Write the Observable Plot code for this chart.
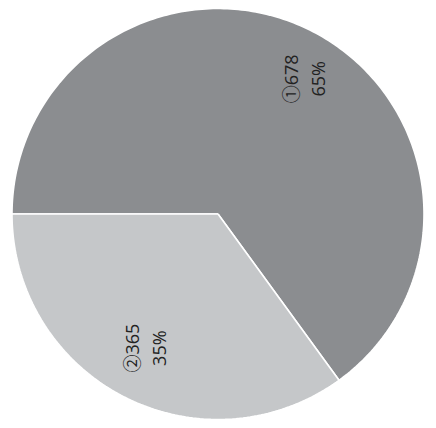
<!DOCTYPE html>
<html>
<head>
<meta charset="utf-8">
<script src="https://cdn.jsdelivr.net/npm/d3@7"></script>
<script src="https://cdn.jsdelivr.net/npm/@observablehq/plot@0.6"></script>
<style>
  html, body { margin: 0; padding: 0; background: #fff; }
</style>
</head>
<body>
<div id="chart"></div>
<script>
// Data
const names = ["①", "②"];
const values = [678, 365];
const percents = ["65%", "35%"];
const colors = ["#8b8d90", "#c5c7c9"];

const total = d3.sum(values);
const startDeg = 180; // slices start at 9 o'clock, going clockwise

// Build slice geometry from values
const slices = [];
let acc = 0;
values.forEach((v, i) => {
  const a0 = startDeg - (acc / total) * 360;
  acc += v;
  const a1 = startDeg - (acc / total) * 360;
  slices.push({name: names[i], value: v, pct: percents[i], color: colors[i], a0, a1, mid: (a0 + a1) / 2});
});

function slicePoints(s) {
  const pts = [{x: 0, y: 0}];
  const steps = Math.max(2, Math.ceil(Math.abs(s.a1 - s.a0)));
  for (let k = 0; k <= steps; k++) {
    const a = (s.a0 + (s.a1 - s.a0) * k / steps) * Math.PI / 180;
    pts.push({x: Math.cos(a), y: Math.sin(a)});
  }
  pts.push({x: 0, y: 0});
  return pts;
}

const labelR = 0.76;
const labels = slices.map(s => ({
  x: labelR * Math.cos(s.mid * Math.PI / 180),
  y: labelR * Math.sin(s.mid * Math.PI / 180),
  text: s.name + s.value + "\n" + s.pct
}));

const labelOffsets = [{dx: 14, dy: 4}, {dx: -3, dy: -5}];

const chart = Plot.plot({
  width: 436,
  height: 428,
  margin: 0,
  x: {domain: [-1, 1], range: [11.5, 423.5], axis: null},
  y: {domain: [-1, 1], range: [419, 8], axis: null},
  style: {background: "#fff"},
  marks: [
    ...slices.map(s => Plot.line(slicePoints(s), {
      x: "x", y: "y",
      fill: s.color,
      stroke: "#ffffff",
      strokeWidth: 1.6,
      strokeLinejoin: "miter",
      strokeLinecap: "butt"
    })),
    ...labels.map((l, i) => Plot.text([l], {
      x: "x", y: "y", text: "text",
      rotate: -90,
      fontSize: 18,
      lineHeight: 1.5,
      fill: "#222",
      fontFamily: "'Open Sans', 'Noto Sans CJK JP', sans-serif",
      dx: labelOffsets[i].dx,
      dy: labelOffsets[i].dy
    }))
  ]
});

document.getElementById("chart").appendChild(chart);
</script>
</body>
</html>
